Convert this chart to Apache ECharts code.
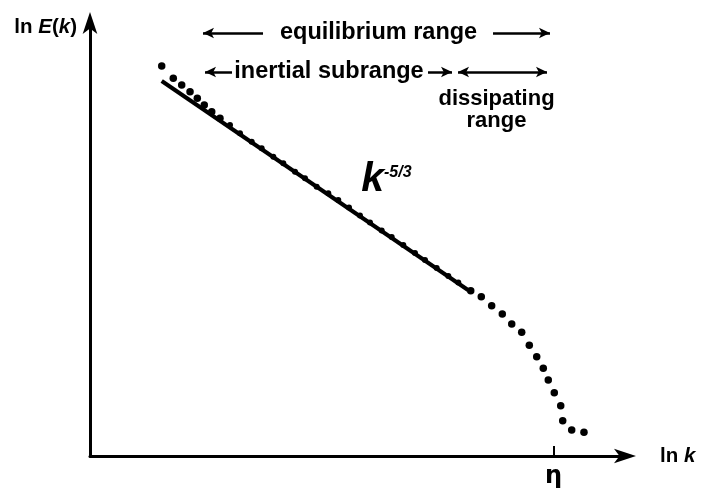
<!DOCTYPE html>
<html>
<head>
<meta charset="utf-8">
<script src="https://cdn.jsdelivr.net/npm/echarts@6/dist/echarts.min.js"></script>
<style>html,body{margin:0;padding:0;background:#fff}#c{width:711px;height:492px}</style>
</head>
<body>
<div id="c"></div>
<script>
// ---- data (arbitrary log units, axes 0..10) ----
const fitLine = [[1.338, 8.661], [7.052, 3.834]];           // k^-5/3 straight segment
// separate dots (start of spectrum and dissipation tail)
const spectrumDotsX = [1.338, 1.554, 1.711, 1.866, 2.002, 2.132, 2.271, 2.425,
  7.103, 7.300, 7.494, 7.692, 7.868, 8.054, 8.196, 8.334, 8.457, 8.550, 8.662, 8.782, 8.819, 8.987, 9.216];
const spectrumDotsY = [9.007, 8.723, 8.568, 8.413, 8.261, 8.106, 7.952, 7.799,
  3.818, 3.679, 3.471, 3.279, 3.048, 2.857, 2.557, 2.293, 2.025, 1.755, 1.462, 1.162, 0.815, 0.600, 0.547];
// dots lying on the k^-5/3 line (the "bumps")
const onLineDotsX = [2.612, 2.799, 3.017, 3.203, 3.420, 3.606, 3.825, 4.011, 4.229, 4.446, 4.632,
  4.832, 5.037, 5.224, 5.442, 5.629, 5.845, 6.063, 6.250, 6.468, 6.685, 6.871];
const onLineDotsY = [7.644, 7.453, 7.259, 7.106, 6.912, 6.760, 6.566, 6.413, 6.219, 6.067, 5.912,
  5.739, 5.554, 5.393, 5.208, 5.058, 4.873, 4.688, 4.527, 4.342, 4.157, 4.007];
const etaTick = [8.65];
const tickLabels = ['η'];

// annotation anchors (data units)
const equilibriumY = 9.769, inertialY = 8.868;
const arrows = [
  // [x1, x2, y, startSymbol, endSymbol]
  [3.228, 2.108, equilibriumY, 'none', 'arrow'],
  [7.519, 8.582, equilibriumY, 'none', 'arrow'],
  [2.649, 2.146, inertialY, 'none', 'arrow'],
  [6.306, 6.754, inertialY, 'none', 'arrow'],
  [6.866, 8.526, inertialY, 'arrow', 'arrow']
];
const texts = [
  {x: 5.384, y: equilibriumY, t: 'equilibrium range', fs: 23.5},
  {x: 4.459, y: inertialY, t: 'inertial subrange', fs: 23.5},
  {x: 7.584, y: 8.250, t: 'dissipating', fs: 22},
  {x: 7.584, y: 7.740, t: 'range', fs: 22},
  {x: 5.530, y: 6.374, t: '{k|k}{s|-5/3}', fs: 22}
];

const FONT = 'Liberation Sans, Arial, sans-serif';
const chart = echarts.init(document.getElementById('c'), null, {renderer: 'canvas'});

const dots = spectrumDotsX.map((x, i) => [x, spectrumDotsY[i]]);
const lineDots = onLineDotsX.map((x, i) => [x, onLineDotsY[i]]);

const nameRich = {
  a: {fontFamily: FONT, fontWeight: 'bold', fontSize: 20.5, color: '#000'},
  b: {fontFamily: FONT, fontWeight: 'bold', fontStyle: 'italic', fontSize: 20.5, color: '#000'}
};

chart.setOption({
  animation: false,
  backgroundColor: '#fff',
  grid: {left: 90, right: 85, top: 23, bottom: 36},
  xAxis: {
    type: 'value', min: 0, max: 10,
    splitLine: {show: false},
    axisLine: {show: true, onZero: false, symbol: ['none', 'arrow'], symbolSize: [11, 22],
      symbolOffset: [0, 10], lineStyle: {color: '#000', width: 3}},
    axisTick: {show: true, inside: true, length: 10, customValues: etaTick,
      lineStyle: {color: '#000', width: 2}},
    axisLabel: {show: true, customValues: etaTick, formatter: () => tickLabels[0],
      margin: 9, color: '#000', fontFamily: 'DejaVu Sans, ' + FONT, fontWeight: 'bold', fontSize: 24},
    name: '{a|ln }{b|k}', nameLocation: 'end', nameGap: 34,
    nameTextStyle: {rich: nameRich}
  },
  yAxis: {
    type: 'value', min: 0, max: 10,
    splitLine: {show: false},
    axisLine: {show: true, onZero: false, symbol: ['none', 'arrow'], symbolSize: [11, 22],
      symbolOffset: [0, 11], lineStyle: {color: '#000', width: 3}},
    axisTick: {show: false},
    axisLabel: {show: false},
    name: '{a|ln }{b|E}{a|(}{b|k}{a|)}', nameLocation: 'end', nameGap: -4,
    nameTextStyle: {align: 'right', verticalAlign: 'middle', padding: [0, 13, 0, 0], rich: nameRich}
  },
  series: [
    {
      name: 'k^-5/3', type: 'line', data: fitLine, showSymbol: false, silent: true,
      lineStyle: {color: '#000', width: 4},
      markLine: {
        silent: true, animation: false,
        label: {show: false},
        lineStyle: {color: '#000', width: 2.5, type: 'solid', opacity: 1},
        data: arrows.map(a => [
          {coord: [a[0], a[2]], symbol: a[3], symbolSize: [8, 11]},
          {coord: [a[1], a[2]], symbol: a[4], symbolSize: [8, 11]}
        ])
      }
    },
    {
      name: 'spectrum', type: 'scatter', data: dots, symbol: 'circle', symbolSize: 7.5,
      itemStyle: {color: '#000', opacity: 1}, silent: true
    },
    {
      name: 'spectrum on line', type: 'scatter', data: lineDots, symbol: 'circle', symbolSize: 6,
      itemStyle: {color: '#000', opacity: 1}, silent: true
    },
    {
      name: 'annotations', type: 'scatter', symbolSize: 0, silent: true,
      itemStyle: {opacity: 1},
      data: texts.map(o => ({
        value: [o.x, o.y],
        label: {
          show: true, position: 'inside', formatter: o.t, color: '#000', opacity: 1,
          fontFamily: FONT, fontWeight: 'bold', fontSize: o.fs,
          rich: {
            k: {fontFamily: FONT, fontWeight: 'bold', fontStyle: 'italic', fontSize: 41, color: '#000'},
            s: {fontFamily: FONT, fontWeight: 'bold', fontStyle: 'italic', fontSize: 16, color: '#000', verticalAlign: 'top', padding: [5, 0, 0, 0]}
          }
        }
      }))
    }
  ]
});
</script>
</body>
</html>
